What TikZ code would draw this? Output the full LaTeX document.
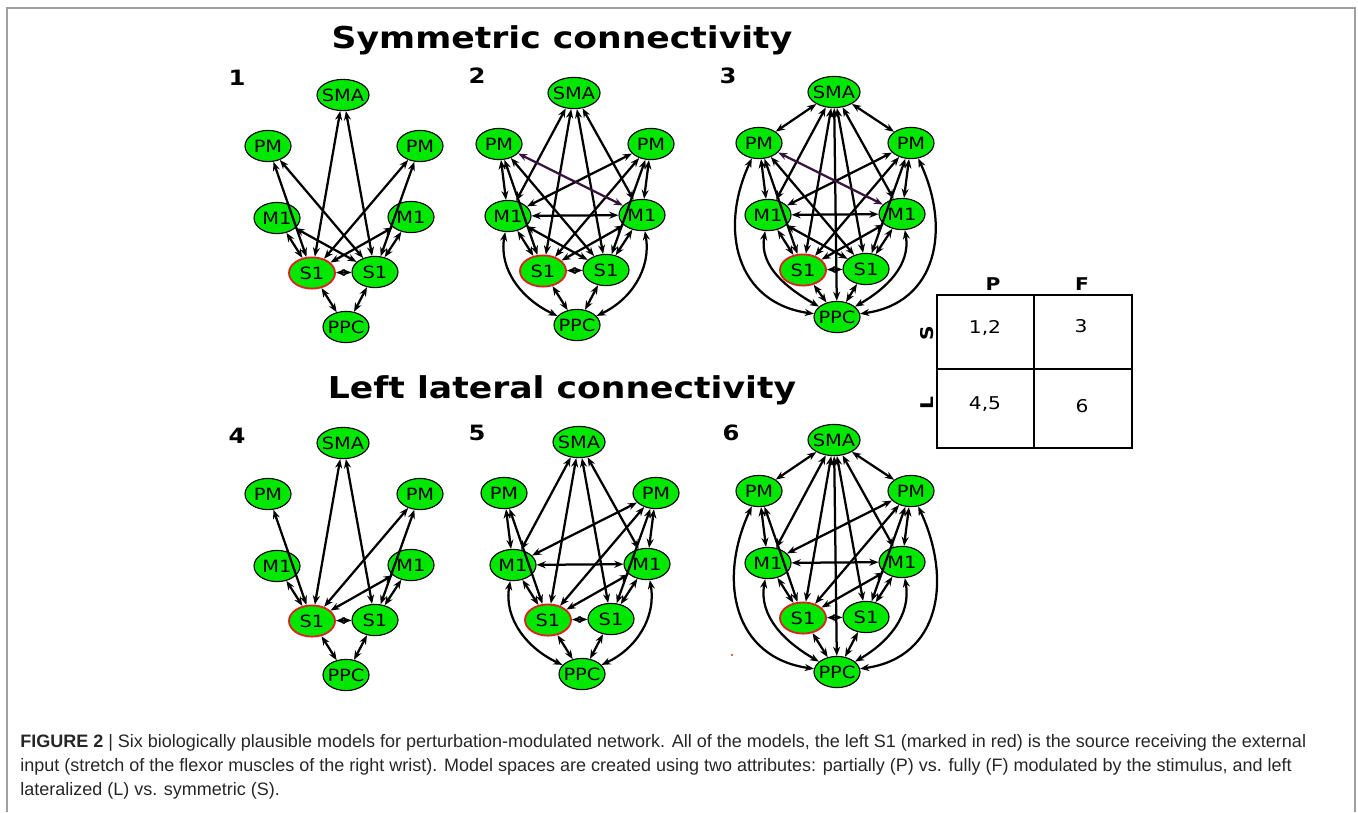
\documentclass[tikz,border=0pt]{standalone}
\usepackage{fontspec}
\setmainfont{Liberation Sans}
\newfontfamily\dejavu[FakeStretch=1.15]{DejaVu Sans}
\usepackage{xcolor}
\usepackage{tikz}
\usetikzlibrary{arrows.meta, shapes.geometric}

\definecolor{brain}{RGB}{0,232,0}
\definecolor{srcred}{RGB}{222,32,32}
\definecolor{crosslink}{RGB}{55,20,62}

% the eight regions of one model, round the scope origin (= SMA)
\newcommand{\regions}[2][-232]{%
  \node[region, minimum width=1.3cm] (#2sma) at (0,0) {SMA};
  \node[region] (#2pml) at (-75,-51) {PM};
  \node[region] (#2pmr) at (77,-51) {PM};
  \node[region] (#2m1l) at (-66,-123) {M1};
  \node[region] (#2m1r) at (68,-122) {M1};
  \node[region, src] (#2s1l) at (-31,-178) {S1};
  \node[region] (#2s1r) at (32,-177) {S1};
  \node[region] (#2ppc) at (3,#1) {PPC};
}

\begin{document}
\begin{tikzpicture}[
  x=0.025cm, y=0.025cm,
  region/.style={ellipse, draw, line width=0.8pt, fill=brain, inner xsep=-8pt, inner ysep=0pt,
    minimum width=1.15cm, minimum height=0.78cm, font=\dejavu\fontsize{12}{14}\selectfont},
  src/.style={draw=srcred, line width=1.3pt},
  link/.style={<->, >={Stealth[length=6.5pt, width=5pt]}, line width=1.6pt},
  title/.style={anchor=base, font=\dejavu\bfseries\fontsize{21.4}{24}\selectfont},
  num/.style={anchor=base, font=\dejavu\bfseries\fontsize{15}{17}\selectfont},
  head/.style={font=\dejavu\bfseries\fontsize{12.5}{14}\selectfont},
  cell/.style={font=\dejavu\fontsize{12.5}{14}\selectfont}
]
\useasboundingbox (0,0) rectangle (1358,-812);
\draw[gray!75, line width=0.9pt] (7,-812) -- (7,-8) -- (1355,-8) -- (1355,-812);

\node[title] (symtitle) at (562,-48) {Symmetric connectivity};
\node[title] (lattitle) at (562,-398) {Left lateral connectivity};

\node[num] (lab1) at (237,-85) {1};
\node[num] (lab2) at (477,-83) {2};
\node[num] (lab3) at (728,-83) {3};
\node[num] (lab4) at (237,-443) {4};
\node[num] (lab5) at (477,-440) {5};
\node[num] (lab6) at (731,-440) {6};

% model 1: symmetric, partial
\begin{scope}[shift={(343,-95)}]
  \regions{a}
  \foreach \u/\v in {s1l/sma, s1l/pml, s1l/pmr, s1l/m1l, s1l/m1r, s1l/s1r, s1l/ppc,
                     s1r/sma, s1r/pml, s1r/pmr, s1r/m1l, s1r/m1r, s1r/ppc}
    \draw[link] (a\u) -- (a\v);
\end{scope}

% model 2
\begin{scope}[shift={(574,-93)}]
  \regions{b}
  \foreach \u/\v in {s1l/sma, s1l/pml, s1l/pmr, s1l/m1l, s1l/m1r, s1l/s1r, s1l/ppc,
                     s1r/sma, s1r/pml, s1r/pmr, s1r/m1l, s1r/m1r, s1r/ppc,
                     sma/m1l, sma/m1r, pml/m1l, pmr/m1r, pmr/m1l, m1l/m1r}
    \draw[link] (b\u) -- (b\v);
  \draw[link, crosslink] (bpml) -- (bm1r);
  \draw[link] (bm1l) to[out=-100, in=155] (bppc);
  \draw[link] (bm1r) to[out=-80, in=25] (bppc);
\end{scope}

% model 3: symmetric, full
\begin{scope}[shift={(834,-92)}]
  \regions[-225]{c}
  \foreach \u/\v in {s1l/sma, s1l/pml, s1l/pmr, s1l/m1l, s1l/m1r, s1l/s1r, s1l/ppc,
                     s1r/sma, s1r/pml, s1r/pmr, s1r/m1l, s1r/m1r, s1r/ppc,
                     sma/m1l, sma/m1r, pml/m1l, pmr/m1r, pmr/m1l, m1l/m1r,
                     sma/pml, sma/pmr, sma/ppc}
    \draw[link] (c\u) -- (c\v);
  \draw[link, crosslink] (cpml) -- (cm1r);
  \draw[link] (cm1l) to[out=-100, in=150] (cppc);
  \draw[link] (cm1r) to[out=-80, in=30] (cppc);
  \draw[link] (cpml) to[out=-115, in=172, looseness=1.2] (cppc);
  \draw[link] (cpmr) to[out=-65, in=8, looseness=1.2] (cppc);
\end{scope}

% model 4: left lateral, partial
\begin{scope}[shift={(343,-443)}]
  \regions{d}
  \foreach \u/\v in {s1l/sma, s1l/pml, s1l/pmr, s1l/m1l, s1l/m1r, s1l/s1r, s1l/ppc,
                     s1r/sma, s1r/pmr, s1r/m1r, s1r/ppc}
    \draw[link] (d\u) -- (d\v);
\end{scope}

% model 5
\begin{scope}[shift={(579,-442)}]
  \regions{e}
  \foreach \u/\v in {s1l/sma, s1l/pml, s1l/pmr, s1l/m1l, s1l/m1r, s1l/s1r, s1l/ppc,
                     s1r/sma, s1r/pmr, s1r/m1r, s1r/ppc,
                     sma/m1l, sma/m1r, pml/m1l, pmr/m1r, pmr/m1l, m1l/m1r}
    \draw[link] (e\u) -- (e\v);
  \draw[link] (em1l) to[out=-100, in=155] (eppc);
  \draw[link] (em1r) to[out=-80, in=25] (eppc);
\end{scope}

% model 6: left lateral, full
\begin{scope}[shift={(834,-440)}]
  \regions{f}
  \foreach \u/\v in {s1l/sma, s1l/pml, s1l/pmr, s1l/m1l, s1l/m1r, s1l/s1r, s1l/ppc,
                     s1r/sma, s1r/pmr, s1r/m1r, s1r/ppc,
                     sma/m1l, sma/m1r, pml/m1l, pmr/m1r, pmr/m1l, m1l/m1r,
                     sma/pml, sma/pmr, sma/ppc}
    \draw[link] (f\u) -- (f\v);
  \draw[link] (fm1l) to[out=-100, in=150] (fppc);
  \draw[link] (fm1r) to[out=-80, in=30] (fppc);
  \draw[link] (fpml) to[out=-115, in=172, looseness=1.2] (fppc);
  \draw[link] (fpmr) to[out=-65, in=8, looseness=1.2] (fppc);
\end{scope}
\fill[srcred] (732,-655) circle (1.2);

% model space table
\draw[line width=1.4pt] (937,-295) rectangle (1132,-448);
\draw[line width=1.4pt] (1034,-295) -- (1034,-448);
\draw[line width=1.4pt] (937,-369) -- (1132,-369);
\node[head, anchor=base] (colp) at (993,-290) {P};
\node[head, anchor=base] (colf) at (1082,-290) {F};
\node[head, rotate=90] (rows) at (927,-333) {S};
\node[head, rotate=90] (rowl) at (927,-403) {L};
\node[cell] (c12) at (985,-328) {1,2};
\node[cell] (c3) at (1081,-326) {3};
\node[cell] (c45) at (985,-404) {4,5};
\node[cell] (c6) at (1082,-406) {6};

\node[anchor=base west, align=left, text=black!85, inner sep=0pt,
  font=\fontsize{12.8}{17}\selectfont] (caption) at (20,-795)
  {\textbf{FIGURE 2} | Six biologically plausible models for perturbation-modulated network. All of the models, the left S1 (marked in red) is the source receiving the external\\
   input (stretch of the flexor muscles of the right wrist). Model spaces are created using two attributes: partially (P) vs. fully (F) modulated by the stimulus, and left\\
   lateralized (L) vs. symmetric (S).};
\end{tikzpicture}
\end{document}
